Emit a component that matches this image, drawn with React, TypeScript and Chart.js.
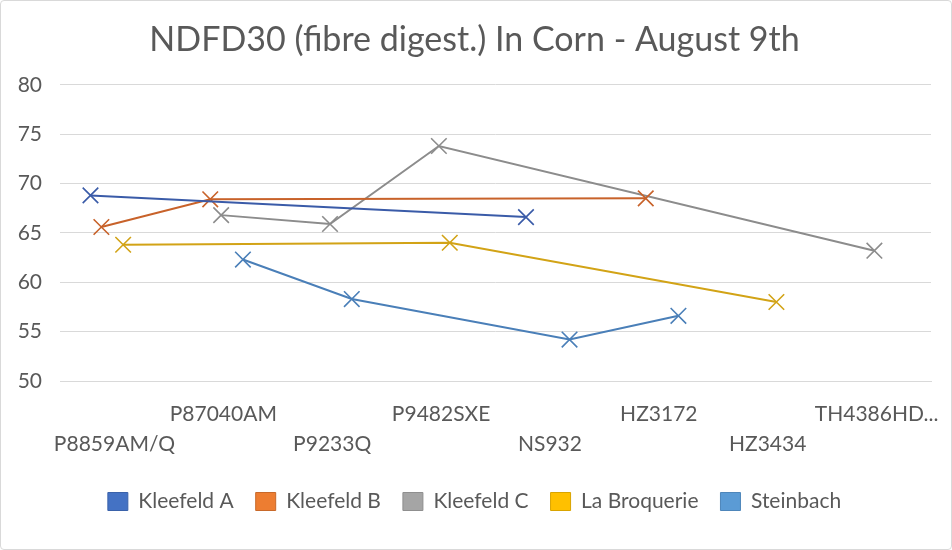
import React, { useEffect, useRef } from 'react';
import { Chart, registerables } from 'chart.js';

Chart.register(...registerables);

const chartTitle = 'NDFD30 (fibre digest.) In Corn - August 9th';
const categories = ['P8859AM/Q', 'P87040AM', 'P9233Q', 'P9482SXE', 'NS932', 'HZ3172', 'HZ3434', 'TH4386HD...'];
const seriesNames = ['Kleefeld A', 'Kleefeld B', 'Kleefeld C', 'La Broquerie', 'Steinbach'];
const kleefeldA = [68.8, null, null, null, 66.6, null, null, null];
const kleefeldB = [65.6, 68.4, null, null, null, 68.5, null, null];
const kleefeldC = [null, 66.8, 65.9, 73.8, null, null, null, 63.2];
const laBroquerie = [63.8, null, null, 64.0, null, null, 58.0, null];
const steinbach = [null, 62.3, 58.3, null, 54.2, 56.6, null, null];
const yMin = 50;
const yMax = 80;
const yStep = 5;

// styles
const lineColors = ['#3A5BA8', '#C8622A', '#8C8C8C', '#D2A316', '#4A7FB8'];
const legendFills = ['#4472C4', '#ED7D31', '#A5A5A5', '#FFC000', '#5B9BD5'];
const legendStrokes = ['#3A62AA', '#C8692A', '#8F8F8F', '#D9A400', '#4E86BA'];
const seriesOffsets = [-0.22, -0.12, -0.02, 0.08, 0.18];
const FONT = 'Lato, "Open Sans", sans-serif';
const TEXT = '#595959';

export default function App() {
  const ref = useRef<HTMLCanvasElement | null>(null);
  useEffect(() => {
    document.body.style.margin = '0';
    const all = [kleefeldA, kleefeldB, kleefeldC, laBroquerie, steinbach];
    const datasets = all.map((vals, s) => ({
      label: seriesNames[s],
      data: vals
        .map((v, i) => (v === null ? null : { x: i + seriesOffsets[s], y: v }))
        .filter((p) => p !== null),
      borderColor: lineColors[s],
      backgroundColor: lineColors[s],
      borderWidth: 2,
      pointStyle: 'crossRot',
      pointRadius: 11,
      pointHoverRadius: 11,
      pointBorderWidth: 1.6,
      pointBorderColor: lineColors[s],
      tension: 0,
      fill: false,
    }));
    const chart = new Chart(ref.current as HTMLCanvasElement, {
      type: 'line',
      data: { datasets } as any,
      options: {
        animation: false,
        responsive: false,
        maintainAspectRatio: false,
        layout: { padding: { left: 17, right: 20, top: 0, bottom: 27 } },
        plugins: {
          title: {
            display: true,
            text: chartTitle,
            color: TEXT,
            font: { family: FONT, size: 34, weight: 'normal', lineHeight: 1.2 },
            padding: { top: 19, bottom: 24 },
          },
          legend: {
            position: 'bottom',
            labels: {
              color: TEXT,
              font: { family: FONT, size: 21 },
              boxWidth: 20,
              boxHeight: 18,
              padding: 22,
              generateLabels: () =>
                seriesNames.map((n, i) => ({
                  text: n,
                  fillStyle: legendFills[i],
                  strokeStyle: legendStrokes[i],
                  lineWidth: 1,
                  fontColor: TEXT,
                  datasetIndex: i,
                  hidden: false,
                })),
            },
          },
          tooltip: { enabled: false },
        },
        scales: {
          x: {
            type: 'linear',
            min: -0.5,
            max: categories.length - 0.5,
            afterBuildTicks: (scale: any) => {
              scale.ticks = categories.map((_, i) => ({ value: i }));
            },
            afterFit: (scale: any) => {
              scale.height = 88;
              scale.paddingLeft = 0;
              scale.paddingRight = 0;
            },
            grid: { display: false, drawTicks: false },
            border: { display: true, color: '#D9D9D9', width: 1 },
            ticks: {
              autoSkip: false,
              maxRotation: 0,
              minRotation: 0,
              padding: 18,
              color: TEXT,
              font: { family: FONT, size: 21, lineHeight: 1.43 },
              callback: (value: any) => {
                const i = Math.round(Number(value));
                if (!categories[i]) return '';
                return i % 2 === 0 ? ['', categories[i]] : [categories[i], ''];
              },
            },
          },
          y: {
            min: yMin,
            max: yMax,
            afterFit: (scale: any) => {
              scale.width = 42;
            },
            ticks: {
              stepSize: yStep,
              padding: 18,
              color: TEXT,
              font: { family: FONT, size: 21 },
            },
            grid: { color: '#D9D9D9', lineWidth: 1, drawTicks: false },
            border: { display: false },
          },
        },
      } as any,
    });
    return () => chart.destroy();
  }, []);
  return (
    <div
      style={{
        width: 952,
        height: 550,
        boxSizing: 'border-box',
        border: '1px solid #D9D9D9',
        borderRadius: 4,
        background: '#fff',
        overflow: 'hidden',
      }}
    >
      <canvas ref={ref} width={950} height={548} style={{ display: 'block' }} />
    </div>
  );
}
